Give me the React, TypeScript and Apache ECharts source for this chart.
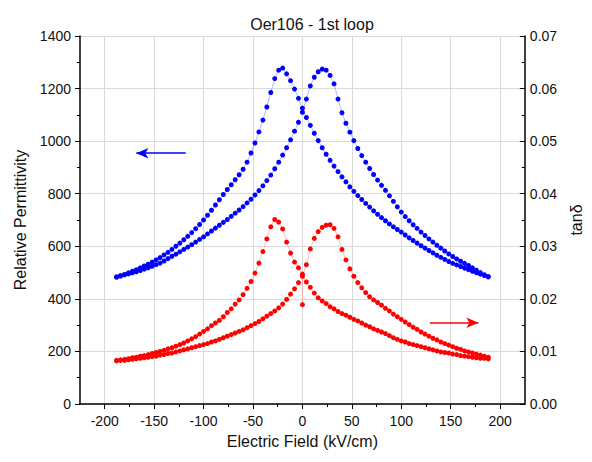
import React, { useEffect, useRef } from "react";
import * as echarts from "echarts";

// Electric field steps (kV/cm) of one branch, ascending
const fieldSteps = [
  -188, -184, -180, -176, -172, -168, -164, -160, -156, -152,
  -148, -144, -140, -136, -132, -128, -124, -120, -116, -112,
  -108, -104, -100, -96, -92, -88, -84, -80, -76, -72,
  -68, -64, -60, -56, -52, -48, -44, -40, -36, -32,
  -28, -24, -20, -16, -12, -8, -4, 0, 4, 8,
  12, 16, 20, 24, 28, 32, 36, 40, 44, 48,
  52, 56, 60, 64, 68, 72, 76, 80, 84, 88,
  92, 96, 100, 104, 108, 112, 116, 120, 124, 128,
  132, 136, 140, 144, 148, 152, 156, 160, 164, 168,
  172, 176, 180, 184, 188,
];

// Relative permittivity, field decreasing branch (listed at ascending field)
const permDown = [
  483, 488, 493, 499, 505, 511, 518, 525, 532, 540,
  548, 557, 567, 577, 588, 600, 612, 625, 638, 652,
  667, 683, 700, 718, 737, 757, 777, 797, 816, 834,
  853, 872, 893, 920, 955, 993, 1035, 1080, 1130, 1185,
  1238, 1270, 1278, 1256, 1230, 1198, 1163, 1125, 1090, 1060,
  1030, 1002, 975, 950, 927, 905, 884, 864, 845, 826,
  809, 793, 778, 763, 749, 735, 722, 709, 697, 685,
  674, 664, 654, 643, 632, 622, 612, 602, 593, 584,
  575, 566, 558, 550, 542, 535, 529, 523, 517, 511,
  505, 499, 494, 489, 484,
];

// Relative permittivity, field increasing branch
const permUp = [
  483, 487, 491, 495, 499, 503, 508, 513, 518, 524,
  530, 536, 544, 553, 562, 570, 579, 588, 597, 606,
  616, 626, 636, 647, 658, 669, 680, 691, 702, 714,
  726, 738, 751, 765, 779, 795, 812, 830, 850, 871,
  895, 920, 947, 975, 1005, 1038, 1072, 1110, 1160, 1210,
  1243, 1264, 1274, 1270, 1250, 1218, 1160, 1108, 1068, 1034,
  1002, 972, 945, 920, 896, 873, 852, 832, 813, 792,
  771, 750, 730, 713, 697, 682, 668, 654, 641, 628,
  616, 604, 593, 582, 571, 561, 552, 543, 535, 527,
  518, 509, 500, 492, 484,
];

// tan delta, field decreasing branch
const tanDown = [
  0.0083, 0.0084, 0.0085, 0.0086, 0.0088, 0.0089, 0.0091, 0.0092, 0.0094, 0.0096,
  0.0098, 0.01, 0.0102, 0.0105, 0.0107, 0.011, 0.0113, 0.0116, 0.012, 0.0124,
  0.0128, 0.0133, 0.0138, 0.0143, 0.0149, 0.0154, 0.0159, 0.0166, 0.0174, 0.0181,
  0.019, 0.0198, 0.0208, 0.022, 0.0233, 0.0249, 0.0268, 0.029, 0.0314, 0.0337,
  0.0351, 0.0346, 0.0333, 0.0308, 0.0287, 0.027, 0.0259, 0.0247, 0.0232, 0.0222,
  0.0211, 0.0202, 0.0196, 0.0191, 0.0185, 0.0181, 0.0176, 0.0172, 0.0169, 0.0165,
  0.0161, 0.0158, 0.0154, 0.015, 0.0147, 0.0143, 0.014, 0.0137, 0.0134, 0.013,
  0.0126, 0.0123, 0.012, 0.0118, 0.0115, 0.0113, 0.0111, 0.0109, 0.0107, 0.0105,
  0.0103, 0.0101, 0.0099, 0.0098, 0.0097, 0.0095, 0.0094, 0.0092, 0.0091, 0.009,
  0.0089, 0.0088, 0.0087, 0.0087, 0.0086,
];

// tan delta, field increasing branch
const tanUp = [
  0.0082, 0.0083, 0.0083, 0.0084, 0.0085, 0.0086, 0.0087, 0.0088, 0.0089, 0.009,
  0.0091, 0.0093, 0.0094, 0.0096, 0.0097, 0.0099, 0.0101, 0.0103, 0.0105, 0.0107,
  0.0109, 0.0111, 0.0113, 0.0115, 0.0118, 0.012, 0.0123, 0.0126, 0.0129, 0.0132,
  0.0135, 0.0138, 0.0141, 0.0145, 0.0149, 0.0153, 0.0157, 0.0162, 0.0167, 0.0172,
  0.0177, 0.0183, 0.019, 0.0199, 0.0209, 0.0219, 0.0231, 0.0243, 0.0265, 0.0295,
  0.0315, 0.0328, 0.0336, 0.034, 0.0341, 0.0334, 0.0318, 0.0294, 0.0274, 0.0257,
  0.0243, 0.0231, 0.0221, 0.0212, 0.0204, 0.0198, 0.0193, 0.0188, 0.0182, 0.0177,
  0.0171, 0.0166, 0.0161, 0.0156, 0.0151, 0.0146, 0.0142, 0.0137, 0.0133, 0.0129,
  0.0125, 0.0122, 0.0118, 0.0115, 0.0112, 0.0109, 0.0106, 0.0104, 0.0101, 0.0099,
  0.0097, 0.0095, 0.0093, 0.0091, 0.0089,
];

// virgin (first) tan delta point at zero field
const tanStart = [0, 0.0189];

const xTickLabels = [-200, -150, -100, -50, 0, 50, 100, 150, 200];
const xMinorTicks = [-175, -125, -75, -25, 25, 75, 125, 175];

// arrow annotations [from, to] in data coordinates
const permArrow = [[-118, 954], [-168, 954]];
const tanArrow = [[129, 0.01546], [178, 0.01546]];

function buildLoop(up: number[], down: number[], start?: number[]) {
  const pts: number[][] = [];
  const z = fieldSteps.indexOf(0);
  if (start) pts.push(start);
  for (let i = z; i < fieldSteps.length; i++) pts.push([fieldSteps[i], up[i]]);
  for (let i = fieldSteps.length - 1; i >= 0; i--) pts.push([fieldSteps[i], down[i]]);
  for (let i = 0; i < z; i++) pts.push([fieldSteps[i], up[i]]);
  return pts;
}

const FONT = "'Liberation Sans', Arial, sans-serif";
const TXT = "#111";

export default function App() {
  const ref = useRef<HTMLDivElement>(null);
  useEffect(() => {
    if (!ref.current) return;
    const chart = echarts.init(ref.current, undefined, { renderer: "svg" });
    const option: any = {
      animation: false,
      backgroundColor: "#ffffff",
      textStyle: { fontFamily: FONT },
      title: {
        text: "Oer106 - 1st loop",
        left: 307,
        top: 11,
        textAlign: "center",
        textStyle: { fontSize: 16, fontWeight: "normal", color: TXT, fontFamily: FONT },
      },
      grid: { left: 80, right: 57, top: 36, bottom: 58, containLabel: false },
      xAxis: [
        {
          type: "value",
          min: -225,
          max: 225,
          position: "bottom",
          name: "Electric Field (kV/cm)",
          nameLocation: "middle",
          nameGap: 29,
          nameTextStyle: { fontSize: 16, color: TXT, fontFamily: FONT },
          axisLine: { show: true, onZero: false, lineStyle: { color: "#000", width: 1.5 } },
          axisTick: { show: true, customValues: xTickLabels, length: 5, lineStyle: { color: "#000", width: 1 } },
          axisLabel: { customValues: xTickLabels, fontSize: 14, color: TXT, margin: 10, fontFamily: FONT },
          splitLine: { show: true, lineStyle: { color: "#dadada", width: 1 } },
        },
        {
          type: "value",
          min: -225,
          max: 225,
          position: "bottom",
          axisLine: { show: false, onZero: false },
          axisTick: { show: true, customValues: xMinorTicks, length: 3, lineStyle: { color: "#000", width: 1 } },
          axisLabel: { show: false },
          splitLine: { show: false },
        },
      ],
      yAxis: [
        {
          type: "value",
          min: 0,
          max: 1400,
          interval: 200,
          position: "left",
          name: "Relative Permittivity",
          nameLocation: "middle",
          nameGap: 52,
          nameRotate: 90,
          nameTextStyle: { fontSize: 16, color: TXT, fontFamily: FONT },
          axisLine: { show: true, onZero: false, lineStyle: { color: "#000", width: 1.5 } },
          axisTick: { show: true, length: 5, lineStyle: { color: "#000", width: 1 } },
          minorTick: { show: true, splitNumber: 2, length: 3, lineStyle: { color: "#000", width: 1 } },
          axisLabel: {
            fontSize: 14,
            color: TXT,
            margin: 9,
            fontFamily: FONT,
            formatter: (v: number) => String(v),
          },
          splitLine: { show: true, lineStyle: { color: "#dadada", width: 1 } },
        },
        {
          type: "value",
          min: 0,
          max: 0.07,
          interval: 0.01,
          position: "right",
          name: "tan\u03b4",
          nameLocation: "middle",
          nameGap: 21,
          nameRotate: 90,
          nameTextStyle: { fontSize: 16, color: TXT, fontFamily: FONT },
          axisLine: { show: true, onZero: false, lineStyle: { color: "#000", width: 1.5 } },
          axisTick: { show: true, inside: true, length: 5, lineStyle: { color: "#000", width: 1 } },
          minorTick: { show: true, splitNumber: 2, length: 3, lineStyle: { color: "#000", width: 1 } },
          axisLabel: {
            fontSize: 14,
            color: TXT,
            margin: 5,
            fontFamily: FONT,
            formatter: (v: number) => v.toFixed(2),
          },
          splitLine: { show: false },
        },
      ],
      series: [
        {
          type: "line",
          name: "permittivity",
          xAxisIndex: 0,
          yAxisIndex: 0,
          data: buildLoop(permUp, permDown),
          symbol: "circle",
          symbolSize: 5,
          showSymbol: true,
          showAllSymbol: true,
          itemStyle: { color: "#0000ff" },
          lineStyle: { color: "rgba(90,90,255,0.45)", width: 1 },
          emphasis: { disabled: true },
          silent: true,
          markLine: {
            silent: true,
            symbol: ["none", "arrow"],
            symbolSize: [8, 12],
            label: { show: false },
            lineStyle: { color: "#0000ff", width: 1.5, type: "solid" },
            emphasis: { disabled: true },
            data: [[{ coord: permArrow[0] }, { coord: permArrow[1] }]],
          },
        },
        {
          type: "line",
          name: "tan",
          xAxisIndex: 0,
          yAxisIndex: 1,
          data: buildLoop(tanUp, tanDown, tanStart),
          symbol: "circle",
          symbolSize: 5,
          showSymbol: true,
          showAllSymbol: true,
          itemStyle: { color: "#ff0000" },
          lineStyle: { color: "rgba(255,100,100,0.45)", width: 1 },
          emphasis: { disabled: true },
          silent: true,
          markLine: {
            silent: true,
            symbol: ["none", "arrow"],
            symbolSize: [8, 12],
            label: { show: false },
            lineStyle: { color: "#ff0000", width: 1.5, type: "solid" },
            emphasis: { disabled: true },
            data: [[{ coord: tanArrow[0] }, { coord: tanArrow[1] }]],
          },
        },
      ],
    };
    chart.setOption(option);
    return () => chart.dispose();
  }, []);
  return (
    <div
      ref={ref}
      style={{ position: "fixed", left: 0, top: 0, width: 592, height: 462, background: "#fff" }}
    />
  );
}
